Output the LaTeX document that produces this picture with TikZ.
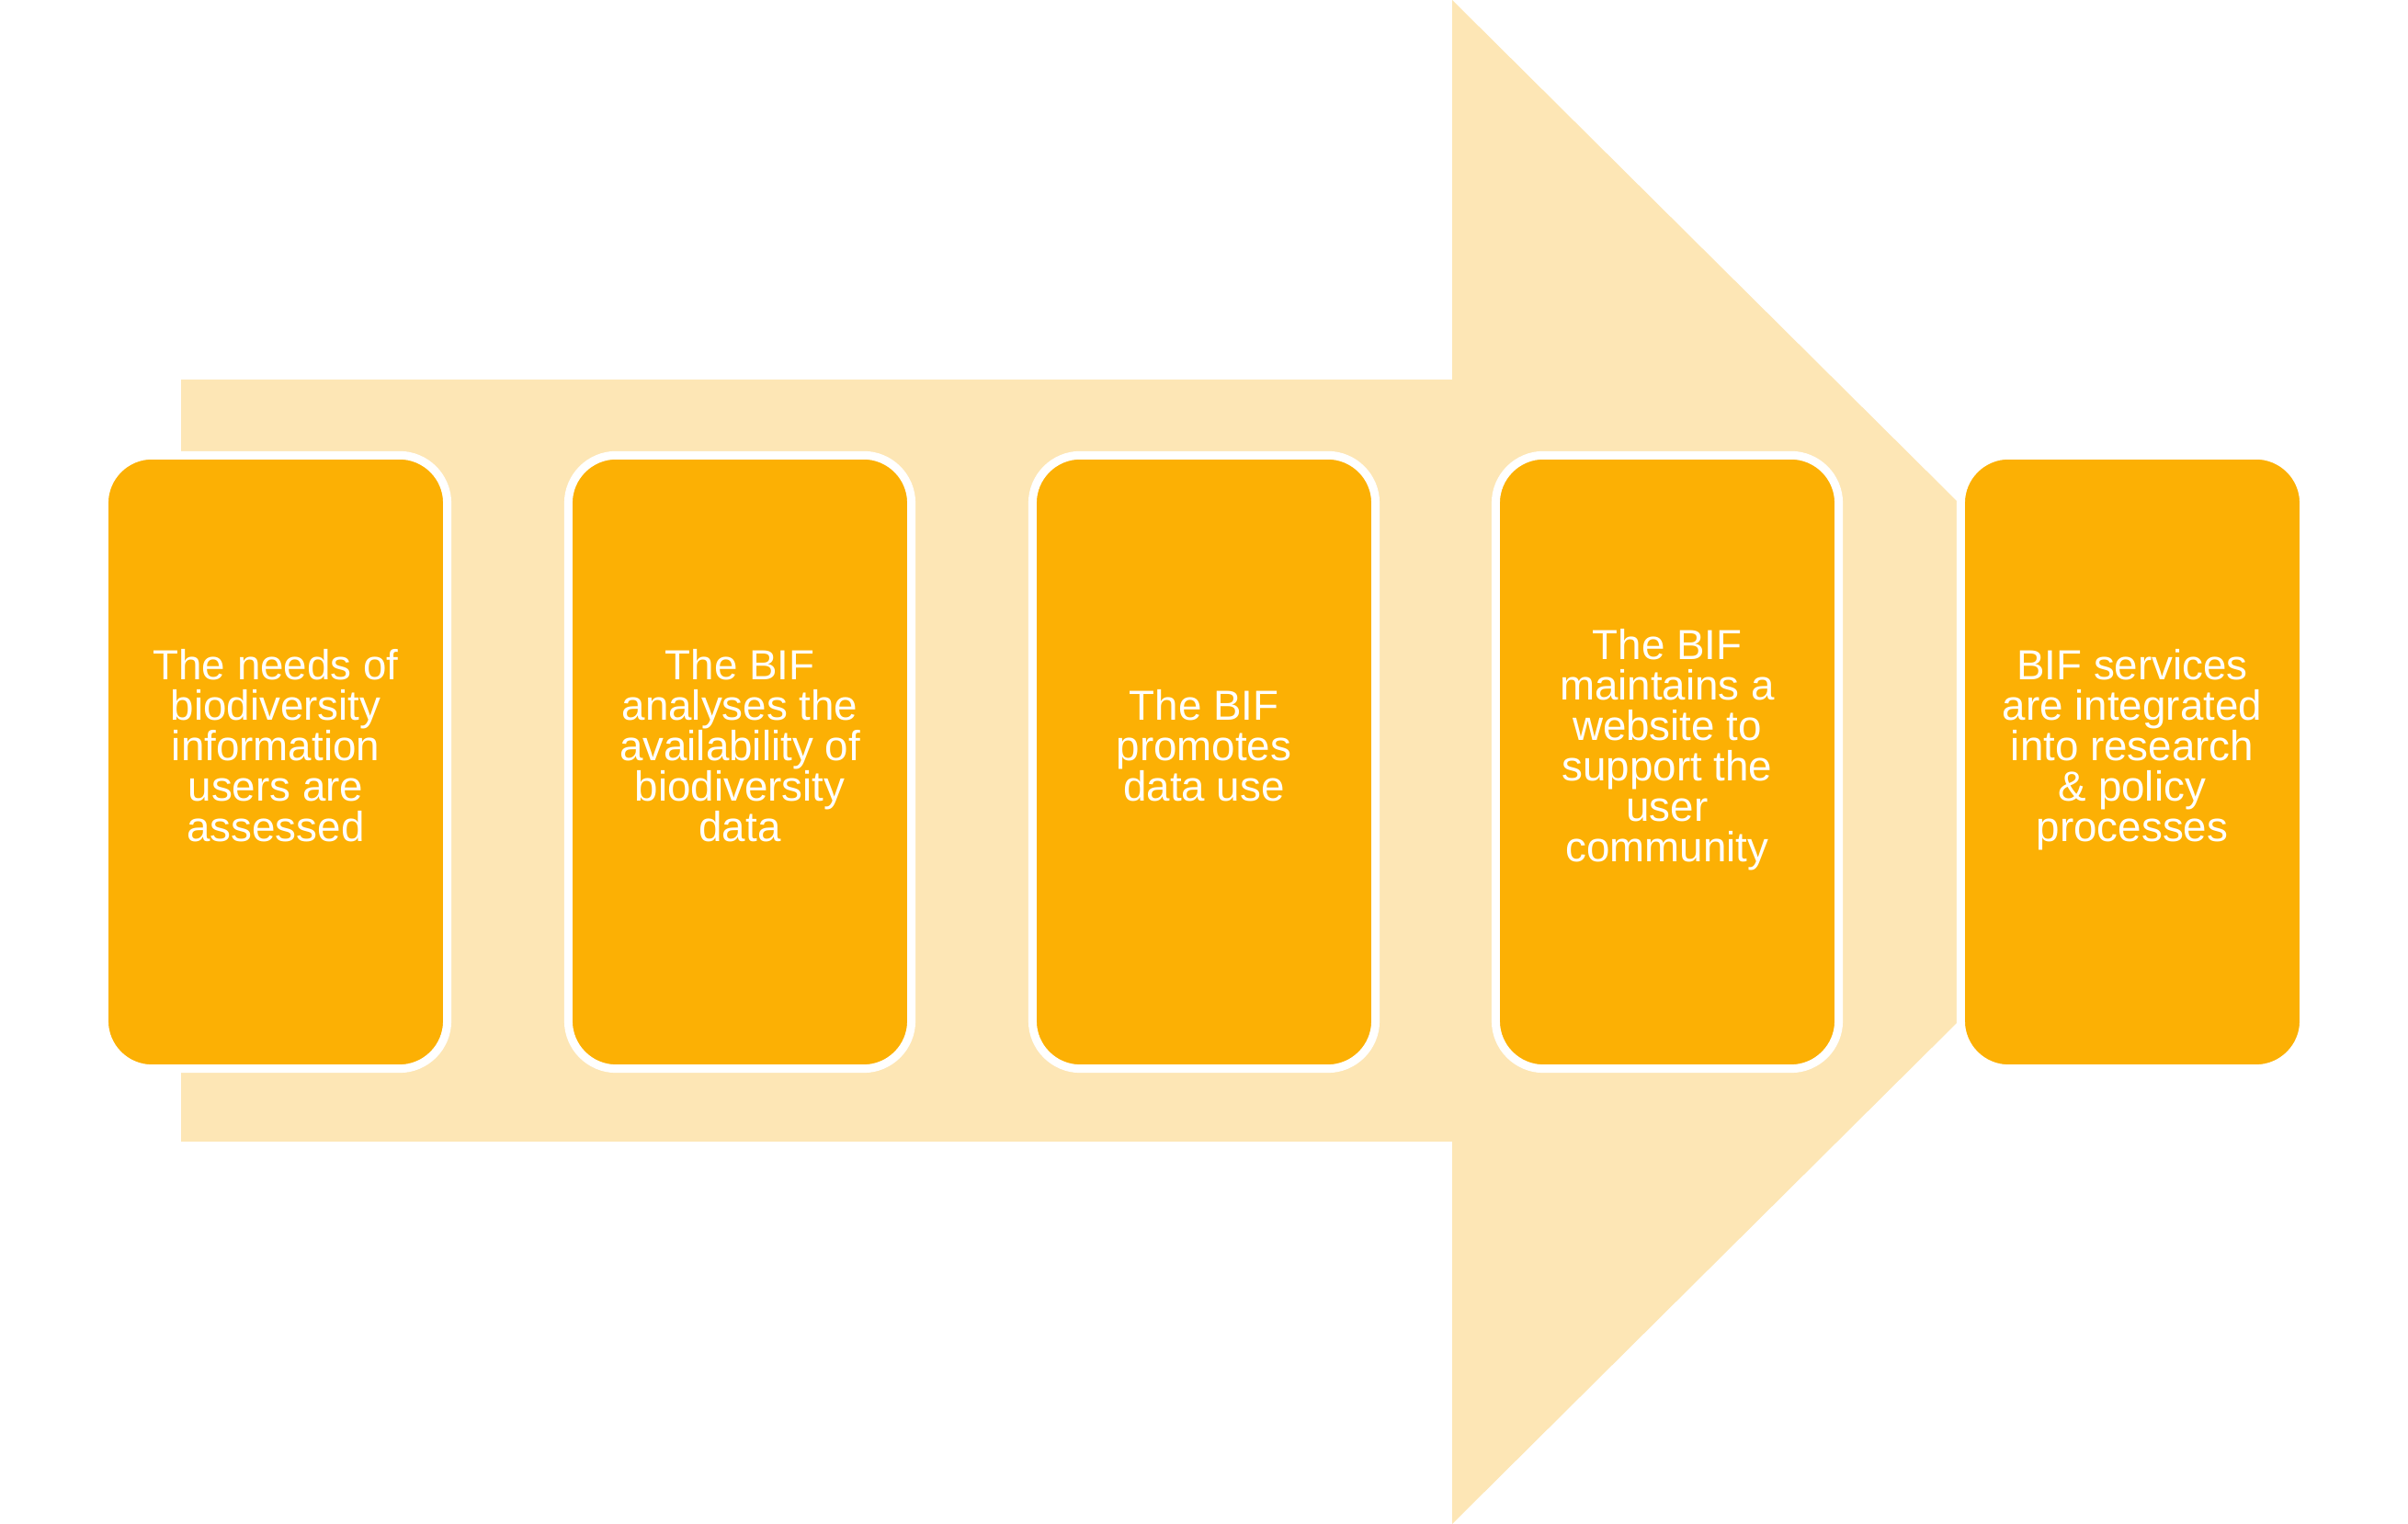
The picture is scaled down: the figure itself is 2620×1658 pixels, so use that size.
\documentclass[tikz,border=0pt]{standalone}
\usepackage{fontspec}
\setsansfont{Liberation Sans}
\usepackage{tikz}

\definecolor{stepfill}{RGB}{252,176,4}
\definecolor{arrowfill}{RGB}{253,230,181}

\begin{document}
\begin{tikzpicture}[x=0.01cm, y=0.01cm,
    stepbox/.style={draw=white, line width=0.09cm, fill=stepfill, rounded corners=0.52cm,
        minimum width=3.73cm, minimum height=6.67cm, text=white, align=center,
        text depth=0.36cm, font=\sffamily\fontsize{13}{12.5}\selectfont}]

        \useasboundingbox (0,0) rectangle (2620,1658);

        % Draw the big arrow
        \fill[arrowfill] (197,1245) -- (1580,1245) -- (1580,1658) -- (2415,829)
            -- (1580,0) -- (1580,416) -- (197,416) -- cycle;

        % Steps along the arrow
        \node[stepbox] (needs) at (300,829) {The needs of\\biodiversity\\information\\users are\\assessed};
        \node[stepbox] (analyse) at (805,829) {The BIF\\analyses the\\availability of\\biodiversity\\data};
        \node[stepbox] (promote) at (1310,829) {The BIF\\promotes\\data use};
        \node[stepbox] (website) at (1814,829) {The BIF\\maintains a\\website to\\support the\\user\\community};
        \node[stepbox] (integrate) at (2320,829) {BIF services\\are integrated\\into research\\\& policy\\processes};

    \end{tikzpicture}
\end{document}
